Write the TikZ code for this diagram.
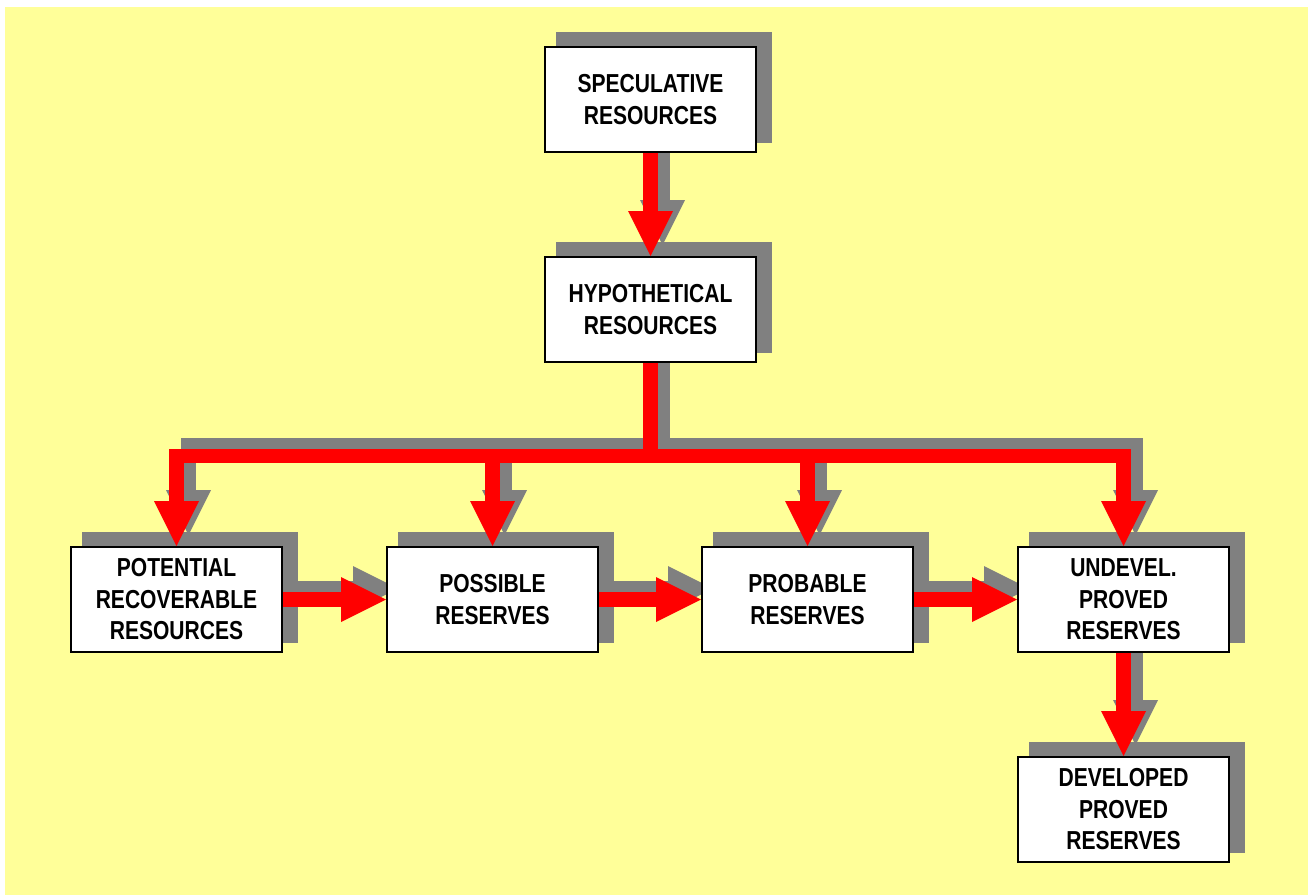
\documentclass[tikz,border=0pt]{standalone}
\usepackage{fontspec}
\newfontfamily\boxfont{Liberation Sans}[FakeStretch=0.81]
\usetikzlibrary{arrows.meta,calc}
\definecolor{bgyellow}{RGB}{255,255,153}
\definecolor{shadowgray}{RGB}{128,128,128}
\definecolor{arrowred}{RGB}{255,0,0}
\pgfdeclarelayer{bglayer}
\pgfdeclarelayer{shadowlayer}
\pgfsetlayers{bglayer,shadowlayer,main}
\begin{document}
\begin{tikzpicture}[x=1pt,y=-1pt,
  box/.style={draw=black, line width=2pt, fill=white, minimum width=211pt,
    minimum height=105pt, inner sep=0pt, align=center,
    font=\boxfont\bfseries\fontsize{26}{31.5}\selectfont},
  flow/.style={draw=arrowred, line width=14.5pt,
    -{Triangle[width=45pt,length=45pt,line width=0pt]}},
  barline/.style={draw=arrowred, line width=14.5pt},
  shadowshift/.style={draw=shadowgray, transform canvas={shift={(12pt,11pt)}}},
  boxshadow/.style={fill=shadowgray}]
\useasboundingbox (0,0) rectangle (1308,895);
\begin{pgfonlayer}{bglayer}
  \fill[bgyellow] (5,7) rectangle (1308,895);
\end{pgfonlayer}

\node[box] (spec) at (650.5,99.5) {SPECULATIVE\\RESOURCES};
\node[box] (hyp)  at (650.5,309.5) {HYPOTHETICAL\\RESOURCES};
\node[box] (pot)  at (176.5,599.5) {POTENTIAL\\RECOVERABLE\\RESOURCES};
\node[box] (pos)  at (492.5,599.5) {POSSIBLE\\RESERVES};
\node[box] (prob) at (807.5,599.5) {PROBABLE\\RESERVES};
\node[box] (und)  at (1123.5,599.5) {UNDEVEL.\\PROVED\\RESERVES};
\node[box] (dev)  at (1123.5,809.5) {DEVELOPED\\PROVED\\RESERVES};

\coordinate (barlevel) at (0,456);
\coordinate (split) at (hyp.south |- barlevel);

\begin{pgfonlayer}{shadowlayer}
  % connector shadows
  \draw[flow, shadowshift] (spec.south) -- (hyp.north);
  \draw[barline, shadowshift] (hyp.south) -- (split);
  \draw[flow, shadowshift] (split) -| (pot.north);
  \draw[flow, shadowshift] (split) -| (pos.north);
  \draw[flow, shadowshift] (split) -| (prob.north);
  \draw[flow, shadowshift] (split) -| (und.north);
  \draw[flow, shadowshift] (pot.east) -- (pos.west);
  \draw[flow, shadowshift] (pos.east) -- (prob.west);
  \draw[flow, shadowshift] (prob.east) -- (und.west);
  \draw[flow, shadowshift] (und.south) -- (dev.north);
  % box shadows
  \foreach \n in {spec,hyp,pot,pos,prob,und,dev}
    \fill[boxshadow] ($(\n.north west)+(12pt,14pt)$) rectangle ($(\n.south east)+(15pt,10pt)$);
\end{pgfonlayer}

\draw[flow] (spec.south) -- (hyp.north);
\draw[barline] (hyp.south) -- (split);
\draw[flow] (split) -| (pot.north);
\draw[flow] (split) -| (pos.north);
\draw[flow] (split) -| (prob.north);
\draw[flow] (split) -| (und.north);
\draw[flow] (pot.east) -- (pos.west);
\draw[flow] (pos.east) -- (prob.west);
\draw[flow] (prob.east) -- (und.west);
\draw[flow] (und.south) -- (dev.north);
\end{tikzpicture}
\end{document}
